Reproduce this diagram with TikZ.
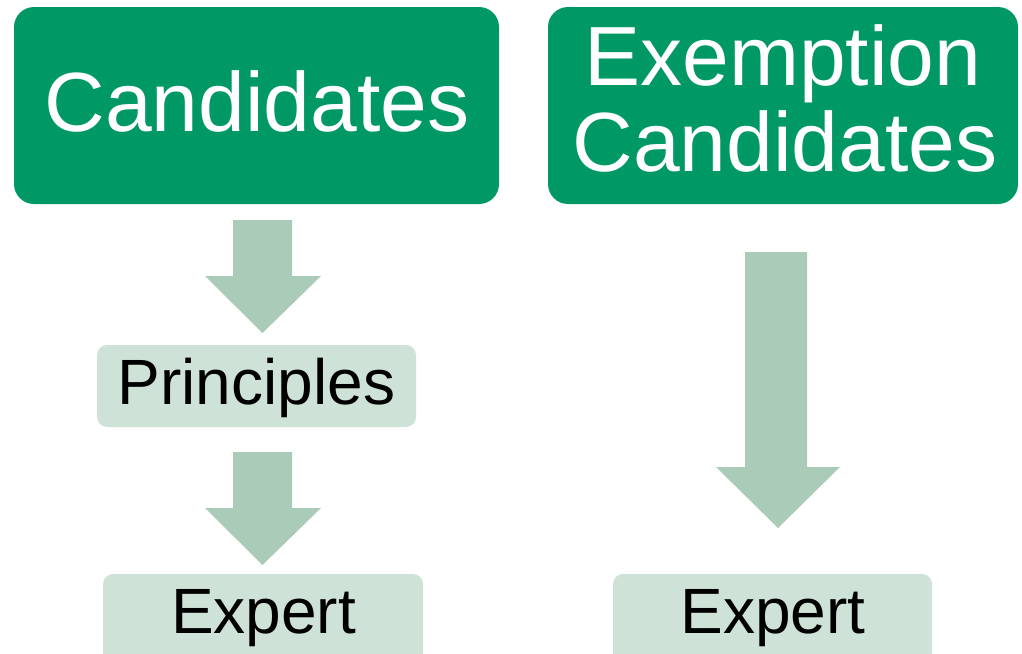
\documentclass[tikz,border=0pt]{standalone}
\usepackage{fontspec}
\setmainfont{Liberation Sans}
\definecolor{darkgreen}{HTML}{009966}
\definecolor{arrowgreen}{HTML}{A9CBB8}
\definecolor{lightgreen}{HTML}{CFE2D7}
\begin{document}
\begin{tikzpicture}[x=1pt,y=-1pt,
  bigbox/.style={rectangle,rounded corners=20pt,fill=darkgreen,inner sep=0pt},
  smallbox/.style={rectangle,rounded corners=10pt,fill=lightgreen,inner sep=0pt},
  bigtext/.style={anchor=base,inner sep=0pt,text=white,font=\fontsize{84}{86}\selectfont},
  smalltext/.style={anchor=base,inner sep=0pt,text=black,font=\fontsize{64}{70}\selectfont},
  blockarrow/.style={fill=arrowgreen}]
\useasboundingbox (0,0) rectangle (1022,653);
% boxes
\node[bigbox,minimum width=485pt,minimum height=197pt] (cand) at (256.5,105.5) {};
\node[bigbox,minimum width=470pt,minimum height=197pt] (exc) at (783,105.5) {};
\node[smallbox,minimum width=319pt,minimum height=82pt] (prin) at (256.5,386) {};
\node[smallbox,minimum width=320pt,minimum height=90pt] (exp1) at (263,619) {};
\node[smallbox,minimum width=319pt,minimum height=90pt] (exp2) at (772.5,619) {};
% texts
\node[bigtext] (candt) at (257,131) {Candidates};
\node[bigtext] (exct1) at (783,85) {Exemption};
\node[bigtext] (exct2) at (785,171) {Candidates};
\node[smalltext] (print) at (256.5,404) {Principles};
\node[smalltext] (exp1t) at (263.5,633) {Expert};
\node[smalltext] (exp2t) at (773,633) {Expert};
% block arrows
\fill[blockarrow] (233,220) -- (292,220) -- (292,276) -- (321,276) -- (262.5,333) -- (205,276) -- (233,276) -- cycle;
\fill[blockarrow] (233,452) -- (292,452) -- (292,508) -- (321,508) -- (262.5,565) -- (205,508) -- (233,508) -- cycle;
\fill[blockarrow] (745,252) -- (807,252) -- (807,467) -- (840,467) -- (778,528) -- (716,467) -- (745,467) -- cycle;
\end{tikzpicture}
\end{document}
